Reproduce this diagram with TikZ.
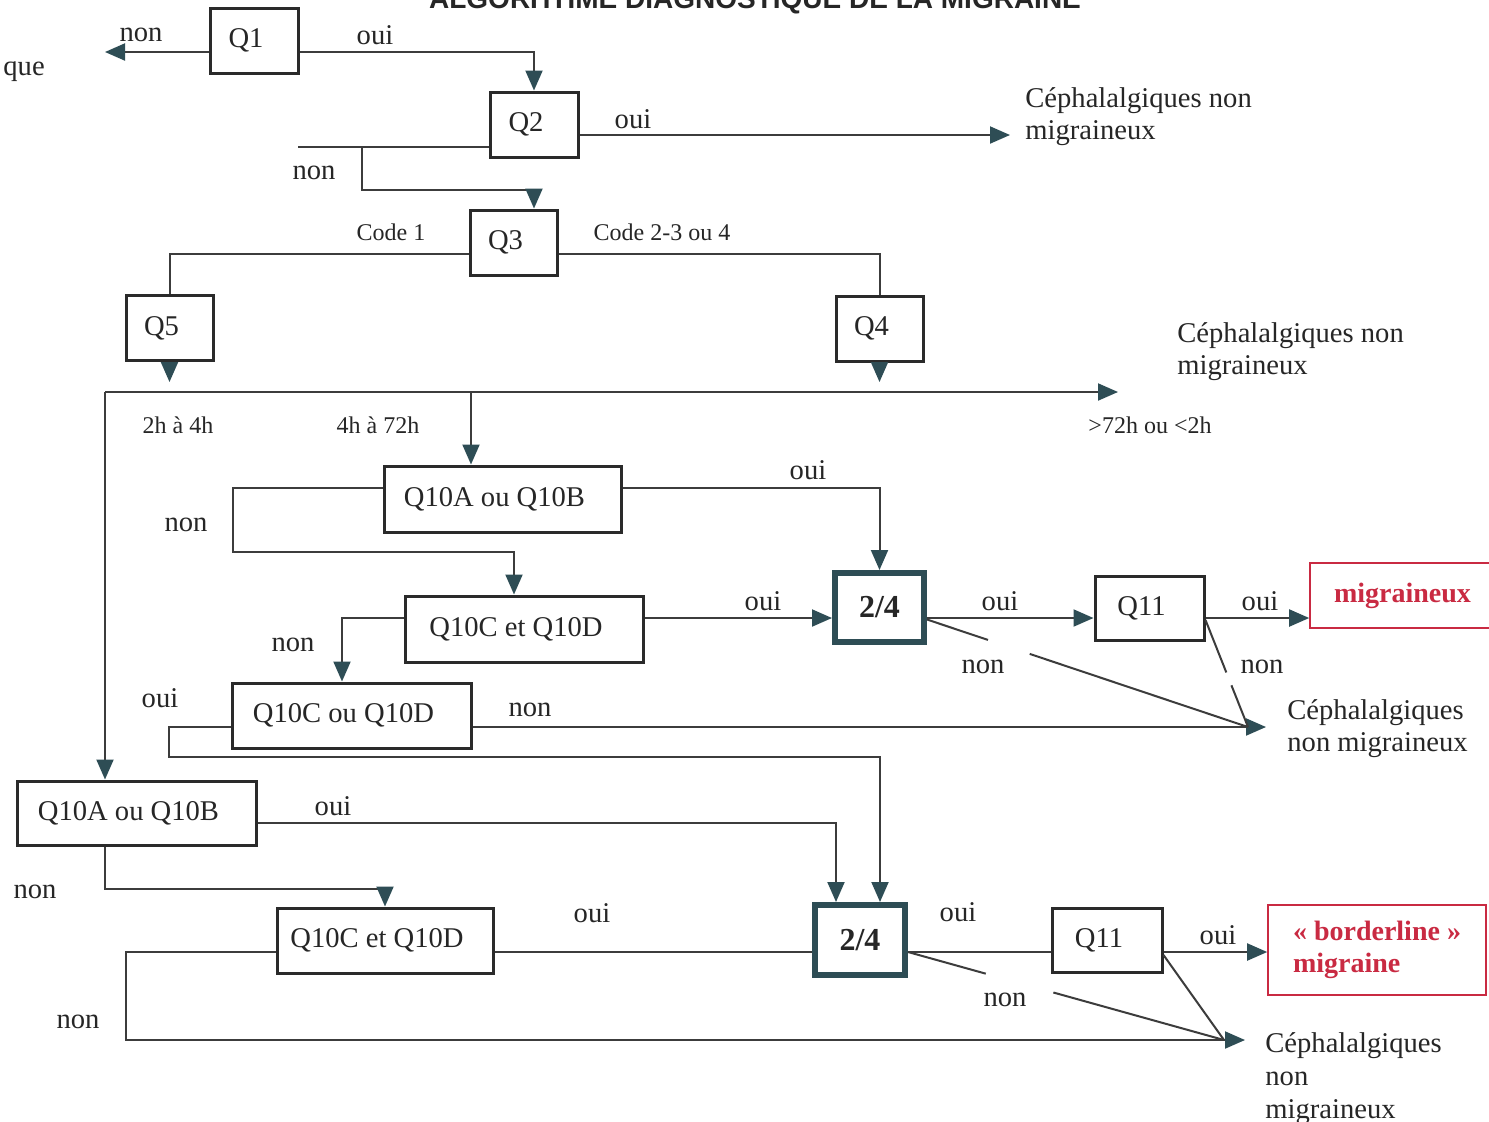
\documentclass[tikz,border=0pt]{standalone}
\usepackage{fontspec}
\setmainfont{Liberation Serif}
\newfontfamily\titlefont{Liberation Sans}
\usetikzlibrary{arrows.meta}
\usetikzlibrary{calc}
\definecolor{linec}{HTML}{3C3C3C}
\definecolor{tipc}{HTML}{2E4D55}
\definecolor{boxc}{HTML}{2A2A2A}
\definecolor{redc}{HTML}{C92A42}
\begin{document}
\begin{tikzpicture}
        [x=0.5pt, y=-0.5pt,
         every node/.style={font=\fontsize{14.3}{16}\selectfont, text=black!85},
         box/.style={draw=boxc, line width=1.5pt, minimum height=32.5pt, inner sep=0pt, execute at end node=\hspace*{8pt}},
         bigbox/.style={draw=tipc, line width=3pt, inner sep=0pt, font=\fontsize{16}{18}\selectfont\bfseries},
         redbox/.style={draw=redc, line width=0.8pt, text=redc, inner sep=0pt, font=\fontsize{14}{16}\selectfont\bfseries},
         lab/.style={inner sep=0pt},
         small/.style={inner sep=0pt, font=\fontsize{12}{14}\selectfont},
         line/.style={draw=linec, line width=1pt},
         arr/.style={line, -{Triangle[length=10pt, width=8.5pt, color=tipc]}}]
        \fill[white] (0,0) rectangle (1489,1121);
        \useasboundingbox (0,0) rectangle (1489,1121);
        \node[anchor=base, font=\titlefont\bfseries\fontsize{14}{16}\selectfont] (title) at (755,8) {ALGORITHME DIAGNOSTIQUE DE LA MIGRAINE};
        \node[lab, anchor=west] (que) at (3,72) {que};
        \node[box, minimum width=44pt] (q1) at (254,40.5) {Q1};
        \node[box, minimum width=44pt] (q2) at (534,124.5) {Q2};
        \node[box, minimum width=43.5pt] (q3) at (513.5,242.5) {Q3};
        \node[box, minimum width=43.5pt] (q5) at (169.5,328) {Q5};
        \node[box, minimum width=43.5pt] (q4) at (879.5,328.5) {Q4};
        \node[box, minimum width=118.5pt, minimum height=33pt] (qab1) at (502.5,499) {Q10A ou Q10B};
        \node[box, minimum width=119pt, minimum height=33pt] (qcd1) at (524,629) {Q10C et Q10D};
        \node[box, minimum width=119.5pt] (qcod) at (351.5,715.5) {Q10C ou Q10D};
        \node[bigbox, minimum width=44.5pt, minimum height=34.5pt] (t1) at (879.5,607.5) {2/4};
        \node[box, minimum width=54.5pt, minimum height=32pt] (q11a) at (1149.5,608) {Q11};
        \node[redbox, minimum width=92.5pt, minimum height=32.5pt] (mig) at (1402.5,595.5) {migraineux};
        \node[box, minimum width=119.5pt, minimum height=32pt] (qab2) at (136.5,813) {Q10A ou Q10B};
        \node[box, minimum width=108pt] (qcd2) at (385,940.5) {Q10C et Q10D};
        \node[bigbox, minimum width=45pt, minimum height=35pt] (t2) at (860,940) {2/4};
        \node[box, minimum width=55pt, minimum height=32pt] (q11b) at (1107,940) {Q11};
        \node[redbox, minimum width=109pt, minimum height=45pt, align=left] (bord) at (1377,950) {« borderline »\\migraine};
        \node[lab, anchor=north west, align=left] (ceph0) at (1025,87) {Céphalalgiques non\\migraineux};
        \node[lab, anchor=north west, align=left] (ceph1) at (1177,322) {Céphalalgiques non\\migraineux};
        \node[lab, anchor=north west, align=left] (cephA) at (1287,699) {Céphalalgiques\\non migraineux};
        \node[lab, anchor=north west, align=left, font=\fontsize{14.3}{16.5}\selectfont] (cephB) at (1265,1032) {Céphalalgiques\\non\\migraineux};
        \coordinate (c1) at (105,52);
        \coordinate (c2) at (298,147);
        \coordinate (b2) at (362,147);
        \coordinate (h0) at (105,392);
        \coordinate (h1) at (1118,392);
        \coordinate (h2) at (471,392);
        \coordinate (cA) at (1266,727);
        \coordinate (cA0) at (1248,727);
        \coordinate (cB) at (1245,1040);
        \coordinate (cB0) at (1224,1040);
        \draw[arr] ($(q1.west)+(0,11.5)$) -- (c1);
        \draw[arr] ($(q1.east)+(0,11.5)$) -| (q2.north);
        \draw[arr] ($(q2.east)+(0,10.5)$) coordinate (q2o) -- ($(q2o -| ceph0.west)+(-15,0)$);
        \draw[line] ($(q2.west)+(0,22.5)$) -- (c2);
        \draw[arr] (b2) |- ($(q2.south)+(0,31)$) -- (q2.south |- q3.north);
        \draw[line] ($(q3.west)+(0,11.5)$) -| (q5.north);
        \draw[line] ($(q3.east)+(0,11.5)$) -| (q4.north);
        \draw[arr] (q5.south) -- ($(q5.south |- h0)+(0,-10)$);
        \draw[arr] (q4.south) -- ($(q4.south |- h0)+(0,-10)$);
        \draw[arr] (h0) -- (h1);
        \draw[arr] (h0) -- (h0 |- qab2.north);
        \draw[arr] (h2) -- (h2 |- qab1.north);
        \draw[arr] ($(qab1.east)+(0,-11)$) -| (t1.north);
        \draw[arr] ($(qab1.west)+(0,-11)$) -- ++(-150,0) |- ($(qcd1.north)+(-10,-43)$) -- ($(qcd1.north)+(-10,0)$);
        \draw[arr] ($(qcd1.east)+(0,-11)$) -- ($(t1.west)+(0,10.5)$);
        \draw[arr] ($(qcd1.west)+(0,-11)$) -| ($(qcod.north)+(-9.5,0)$);
        \draw[arr] ($(qcod.east)+(0,11.5)$) -- (cA);
        \draw[arr] ($(qcod.west)+(0,11.5)$) -- ++(-62,0) -- ++(0,30) -| ($(t2.north)+(20,0)$);
        \draw[arr] ($(t1.east)+(0,10.5)$) -- ($(q11a.west)+(0,10)$);
        \draw[line] ($(t1.east)+(0,12)$) coordinate (t1n) -- ($(t1n)!0.19!(cA0)$) ($(t1n)!0.32!(cA0)$) -- (cA0);
        \draw[arr] ($(q11a.east)+(0,10)$) -- ($(mig.west)+(0,22.5)$);
        \draw[line] ($(q11a.east)+(0,12)$) coordinate (q11n) -- ($(q11n)!0.49!(cA0)$) ($(q11n)!0.61!(cA0)$) -- (cA0);
        \draw[arr] ($(qab2.east)+(0,10)$) -| ($(t2.north)+(-24,0)$);
        \draw[arr] (qab2.south -| h0) -- ++(0,42) -| (qcd2.north);
        \draw[line] ($(qcd2.east)+(0,11.5)$) -- ($(t2.west)+(0,12)$);
        \draw[arr] ($(qcd2.west)+(0,11.5)$) -- ++(-150,0) |- (cB);
        \draw[line] ($(t2.east)+(0,12)$) -- ($(q11b.west)+(0,12)$);
        \draw[line] ($(t2.east)+(0,12)$) coordinate (t2n) -- ($(t2n)!0.246!(cB0)$) ($(t2n)!0.46!(cB0)$) -- (cB0);
        \draw[arr] ($(q11b.east)+(0,12)$) -- ($(bord.west)+(0,2)$);
        \draw[line] ($(q11b.east)+(0,15)$) -- (cB0);
        \node[lab] (l1) at (141,35) {non};
        \node[lab] (l2) at (375,35) {oui};
        \node[lab] (l3) at (633,119) {oui};
        \node[lab] (l4) at (314,173) {non};
        \node[small] (l5) at (391,232) {Code 1};
        \node[small] (l6) at (662,232) {Code 2-3 ou 4};
        \node[small] (l7) at (178,425) {2h à 4h};
        \node[small] (l8) at (378,425) {4h à 72h};
        \node[small] (l9) at (1150,425) {>72h ou <2h};
        \node[lab] (l10) at (808,470) {oui};
        \node[lab] (l11) at (186,525) {non};
        \node[lab] (l12) at (763,601) {oui};
        \node[lab] (l13) at (293,645) {non};
        \node[lab] (l14) at (160,698) {oui};
        \node[lab] (l15) at (530,710) {non};
        \node[lab] (l16) at (1000,601) {oui};
        \node[lab] (l17) at (983,667) {non};
        \node[lab] (l18) at (1260,601) {oui};
        \node[lab] (l19) at (1262,667) {non};
        \node[lab] (l20) at (333,806) {oui};
        \node[lab] (l21) at (35,892) {non};
        \node[lab] (l22) at (592,913) {oui};
        \node[lab] (l23) at (78,1022) {non};
        \node[lab] (l24) at (958,912) {oui};
        \node[lab] (l25) at (1005,1000) {non};
        \node[lab] (l26) at (1218,935) {oui};
    \end{tikzpicture}
\end{document}
